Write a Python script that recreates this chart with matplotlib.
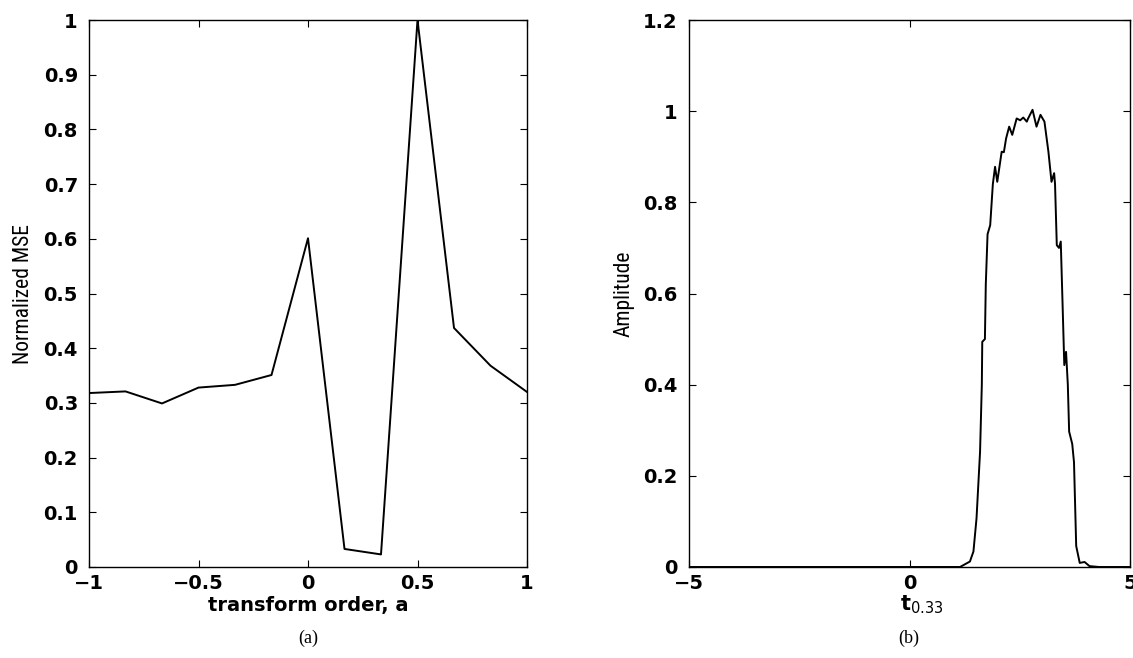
import matplotlib
matplotlib.use("Agg")
import matplotlib.pyplot as plt
from matplotlib import font_manager

# Panel (a) data
order_a = [-1.0, -5/6, -4/6, -3/6, -2/6, -1/6, 0.0, 1/6, 2/6, 3/6, 4/6, 5/6, 1.0]
mse = [0.318, 0.321, 0.299, 0.328, 0.333, 0.351, 0.601, 0.033, 0.023, 1.0, 0.437, 0.368, 0.320]

# Panel (b) data
t_vals = [-5.0, 1.145, 1.37, 1.45, 1.52, 1.60, 1.64, 1.65, 1.71, 1.73, 1.77, 1.83, 1.89, 1.94,
          1.99, 2.09, 2.14, 2.19, 2.26, 2.33, 2.43, 2.51, 2.58, 2.66, 2.69, 2.79, 2.88,
          2.97, 3.06, 3.15, 3.22, 3.28, 3.30, 3.34, 3.39, 3.43, 3.47, 3.51, 3.55, 3.59,
          3.62, 3.69, 3.73, 3.78, 3.86, 3.97, 4.08, 4.30, 5.0]
amp = [0.0, 0.0, 0.012, 0.034, 0.107, 0.253, 0.40, 0.494, 0.50, 0.62, 0.73, 0.75, 0.84, 0.878,
       0.845, 0.911, 0.91, 0.94, 0.966, 0.948, 0.984, 0.98, 0.986, 0.977, 0.984, 1.003, 0.966,
       0.992, 0.977, 0.911, 0.845, 0.864, 0.84, 0.706, 0.70, 0.714, 0.58, 0.443, 0.472, 0.40,
       0.297, 0.27, 0.23, 0.046, 0.009, 0.011, 0.002, 0.0, 0.0]

a_xticks = [-1, -0.5, 0, 0.5, 1]
a_xticklabels = ["\u22121", "\u22120.5", "0", "0.5", "1"]
a_yticks = [0, 0.1, 0.2, 0.3, 0.4, 0.5, 0.6, 0.7, 0.8, 0.9, 1]
a_yticklabels = ["0", "0.1", "0.2", "0.3", "0.4", "0.5", "0.6", "0.7", "0.8", "0.9", "1"]
b_xticks = [-5, 0, 5]
b_xticklabels = ["\u22125", "0", "5"]
b_yticks = [0, 0.2, 0.4, 0.6, 0.8, 1.0, 1.2]
b_yticklabels = ["0", "0.2", "0.4", "0.6", "0.8", "1", "1.2"]

plt.rcParams['font.family'] = ['DejaVu Sans']

installed = {f.name for f in font_manager.fontManager.ttflist}
narrow = None
for cand in ['Liberation Sans Narrow', 'DejaVu Sans Condensed', 'Roboto Condensed', 'Open Sans Condensed']:
    if cand in installed:
        narrow = cand
        break

W, H = 1133, 658
fig = plt.figure(figsize=(W/100, H/100), dpi=100)

ax1 = fig.add_axes([89/W, 1-567/H, 438/W, 547/H])
ax2 = fig.add_axes([689/W, 1-567/H, 441/W, 547/H])

def style(ax):
    ax.tick_params(direction='in', top=True, right=True, length=5, width=0.8,
                   labelsize=14)
    ax.tick_params(axis='y', pad=8)
    ax.tick_params(axis='x', pad=5)
    for lab in ax.get_xticklabels() + ax.get_yticklabels():
        lab.set_fontweight('bold')
    for s in ax.spines.values():
        s.set_linewidth(1.0)
        s.set_color('black')

def ylab(ax, text, xcenter_px):
    if narrow:
        lbl = ax.set_ylabel(text, fontsize=15.5, family=narrow)
    else:
        lbl = ax.set_ylabel(text, fontsize=13.5, family='Liberation Sans')
    lbl.set_verticalalignment('center')
    bbox = ax.get_position()
    xa = (xcenter_px / W - bbox.x0) / bbox.width
    ax.yaxis.set_label_coords(xa, 0.5)

ax1.plot(order_a, mse, color='black', lw=1.4)
ax1.set_xlim(-1, 1)
ax1.set_ylim(0, 1)
ax1.set_xticks(a_xticks)
ax1.set_xticklabels(a_xticklabels)
ax1.set_yticks(a_yticks)
ax1.set_yticklabels(a_yticklabels)
style(ax1)
ax1.set_xlabel("transform order, a", fontsize=14, fontweight='bold')
ax1.xaxis.set_label_coords(0.5, (567 - 596) / 547)
ylab(ax1, "Normalized MSE", 24)

ax2.plot(t_vals, amp, color='black', lw=1.4)
ax2.set_xlim(-5, 5)
ax2.set_ylim(0, 1.2)
ax2.set_xticks(b_xticks)
ax2.set_xticklabels(b_xticklabels)
ax2.set_yticks(b_yticks)
ax2.set_yticklabels(b_yticklabels)
style(ax2)
ax2.set_xlabel(r"$\mathbf{t}_{\mathregular{0.33}}$", fontsize=15)
ax2.xaxis.set_label_coords((922 - 689) / 441, (567 - 593) / 547)
ylab(ax2, "Amplitude", 624)

fig.text(308/W, 1-638/H, "(a)", ha='center', va='center', fontsize=13, family='Liberation Serif')
fig.text(909/W, 1-638/H, "(b)", ha='center', va='center', fontsize=13, family='Liberation Serif')

fig.savefig("out.png", dpi=100)
